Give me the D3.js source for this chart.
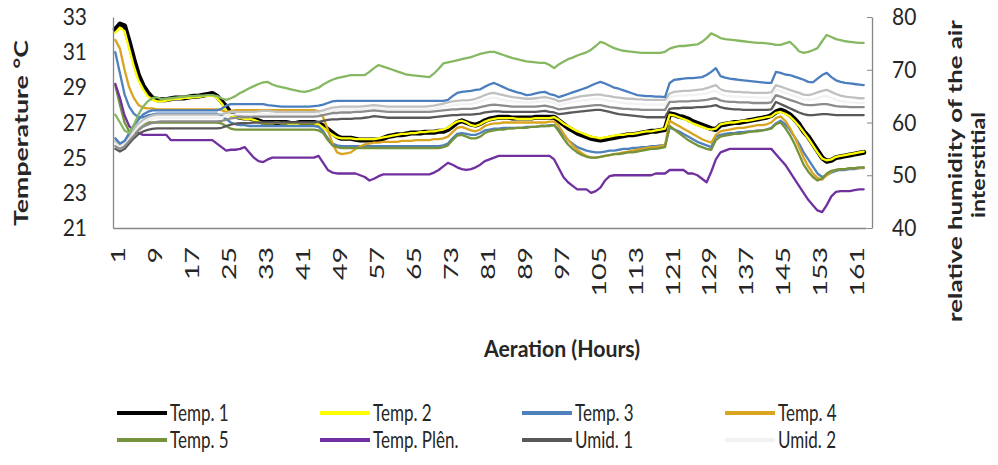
<!DOCTYPE html>
<html>
<head>
<meta charset="utf-8">
<script src="https://cdn.jsdelivr.net/npm/d3@7"></script>
<style>
  html, body { margin: 0; padding: 0; background: #ffffff; }
  svg { display: block; }
  text { font-family: Lato, "Open Sans", "Liberation Sans", sans-serif; fill: #262626; }
</style>
</head>
<body>
<svg id="chart" width="998" height="465"></svg>
<script>
// Aeration hours (category axis) and the labelled hours
const hours = d3.range(1, 164);
const hourTicks = [1, 9, 17, 25, 33, 41, 49, 57, 65, 73, 81, 89, 97, 105, 113, 121, 129, 137, 145, 153, 161];
const tempTicks = [21, 23, 25, 27, 29, 31, 33];
const humidTicks = [40, 50, 60, 70, 80];

// Grain temperatures, °C (left axis)
const temp1 = [
  32.3, 32.6, 32.5, 31.6, 30.6, 29.7, 29.1, 28.7, 28.4, 28.3,
  28.3, 28.3, 28.35, 28.4, 28.4, 28.4, 28.45, 28.5, 28.5, 28.55,
  28.6, 28.65, 28.5, 28.2, 27.9, 27.5, 27.35, 27.3, 27.25, 27.25,
  27.2, 27.1, 27.0, 27.0, 27.0, 27.0, 27.0, 27.0, 26.95, 26.95,
  27.0, 27.0, 27.0, 27.0, 26.95, 26.8, 26.6, 26.4, 26.2, 26.1,
  26.1, 26.1, 26.05, 26.0, 26.0, 26.0, 26.0, 26.0, 26.1, 26.2,
  26.25, 26.3, 26.3, 26.35, 26.4, 26.4, 26.4, 26.45, 26.45, 26.45,
  26.5, 26.5, 26.6, 26.8, 27.0, 27.1, 27.0, 26.9, 26.85, 26.95,
  27.1, 27.2, 27.25, 27.3, 27.3, 27.3, 27.25, 27.25, 27.25, 27.25,
  27.25, 27.3, 27.3, 27.3, 27.3, 27.3, 27.1, 26.9, 26.7, 26.55,
  26.4, 26.3, 26.2, 26.1, 26.05, 26.0, 26.05, 26.1, 26.15, 26.2,
  26.25, 26.3, 26.3, 26.35, 26.4, 26.45, 26.5, 26.5, 26.55, 26.6,
  27.5, 27.45, 27.35, 27.3, 27.2, 27.05, 26.95, 26.85, 26.75, 26.65,
  26.6, 26.85, 26.9, 26.95, 27.0, 27.0, 27.05, 27.1, 27.15, 27.2,
  27.25, 27.3, 27.4, 27.6, 27.7, 27.6, 27.45, 27.2, 26.9, 26.5,
  26.2, 25.8, 25.4, 25.0, 24.8, 24.85, 25.0, 25.05, 25.1, 25.15,
  25.2, 25.25, 25.3
];
const temp2 = [
  32.1, 32.4, 32.2, 31.2, 30.2, 29.4, 28.9, 28.5, 28.3, 28.2,
  28.2, 28.25, 28.3, 28.35, 28.35, 28.4, 28.4, 28.45, 28.45, 28.5,
  28.5, 28.55, 28.4, 28.1, 27.7, 27.4, 27.3, 27.25, 27.2, 27.2,
  27.15, 27.05, 26.95, 26.95, 26.95, 27.0, 26.95, 26.95, 26.9, 26.9,
  26.95, 26.95, 26.95, 26.95, 26.9, 26.7, 26.5, 26.3, 26.15, 26.1,
  26.1, 26.1, 26.05, 26.05, 26.05, 26.05, 26.05, 26.1, 26.15, 26.2,
  26.25, 26.3, 26.35, 26.35, 26.4, 26.4, 26.45, 26.45, 26.5, 26.5,
  26.55, 26.6, 26.7, 26.9, 27.05, 27.1, 27.0, 26.85, 26.8, 26.9,
  27.05, 27.15, 27.2, 27.25, 27.25, 27.25, 27.25, 27.2, 27.2, 27.2,
  27.2, 27.25, 27.25, 27.25, 27.25, 27.3, 27.15, 26.95, 26.8, 26.65,
  26.5, 26.4, 26.3, 26.2, 26.15, 26.1, 26.15, 26.2, 26.25, 26.3,
  26.3, 26.35, 26.35, 26.4, 26.45, 26.5, 26.5, 26.55, 26.6, 26.65,
  27.45, 27.4, 27.3, 27.2, 27.1, 26.95, 26.85, 26.75, 26.65, 26.6,
  26.65, 26.9, 26.95, 27.0, 27.0, 27.05, 27.1, 27.1, 27.15, 27.2,
  27.25, 27.3, 27.35, 27.55, 27.6, 27.5, 27.35, 27.1, 26.8, 26.45,
  26.1, 25.7, 25.3, 24.95, 24.85, 24.9, 25.05, 25.1, 25.15, 25.2,
  25.25, 25.3, 25.35
];
const temp3 = [
  31.0, 29.8, 28.6, 27.9, 27.5, 27.3, 27.3, 27.4, 27.45, 27.5,
  27.5, 27.5, 27.5, 27.5, 27.5, 27.5, 27.5, 27.5, 27.5, 27.5,
  27.5, 27.5, 27.5, 27.4, 27.2, 27.0, 26.9, 26.85, 26.85, 26.8,
  26.8, 26.8, 26.8, 26.8, 26.8, 26.8, 26.8, 26.8, 26.8, 26.8,
  26.8, 26.8, 26.8, 26.8, 26.75, 26.5, 26.1, 25.8, 25.7, 25.65,
  25.65, 25.65, 25.65, 25.65, 25.65, 25.65, 25.65, 25.65, 25.65, 25.65,
  25.65, 25.65, 25.65, 25.65, 25.65, 25.65, 25.65, 25.65, 25.65, 25.65,
  25.65, 25.7, 25.8, 26.1, 26.35, 26.4, 26.35, 26.3, 26.3, 26.4,
  26.55, 26.6, 26.65, 26.65, 26.7, 26.7, 26.7, 26.7, 26.7, 26.75,
  26.75, 26.75, 26.8, 26.8, 26.85, 26.85, 26.6, 26.3, 26.0, 25.8,
  25.6, 25.5, 25.4, 25.35, 25.3, 25.3, 25.35, 25.4, 25.4, 25.45,
  25.5, 25.5, 25.55, 25.55, 25.6, 25.6, 25.65, 25.65, 25.7, 25.7,
  26.7, 26.6, 26.5, 26.35, 26.2, 26.05, 25.9, 25.8, 25.7, 25.6,
  26.2, 26.3, 26.35, 26.4, 26.4, 26.45, 26.45, 26.5, 26.5, 26.55,
  26.55, 26.6, 26.7, 26.95, 27.1, 26.9, 26.6, 26.2, 25.8, 25.3,
  24.9, 24.5, 24.1, 23.9, 24.0, 24.15, 24.25, 24.3, 24.3, 24.35,
  24.35, 24.4, 24.4
];
const temp4 = [
  31.7, 31.2, 30.0, 29.0, 28.4, 28.0, 27.85, 27.8, 27.8, 27.75,
  27.75, 27.75, 27.75, 27.75, 27.75, 27.75, 27.75, 27.75, 27.75, 27.75,
  27.75, 27.75, 27.75, 27.7, 27.6, 27.65, 27.7, 27.7, 27.7, 27.7,
  27.7, 27.7, 27.7, 27.7, 27.7, 27.7, 27.7, 27.7, 27.7, 27.7,
  27.7, 27.7, 27.7, 27.7, 27.65, 27.3, 26.6, 25.8, 25.3, 25.2,
  25.25, 25.3, 25.5, 25.65, 25.75, 25.8, 25.85, 25.85, 25.9, 25.9,
  25.9, 25.9, 25.95, 25.95, 25.95, 26.0, 26.0, 26.0, 26.0, 26.05,
  26.05, 26.1, 26.2, 26.45, 26.7, 26.75, 26.65, 26.55, 26.5, 26.6,
  26.8, 26.9, 26.95, 26.95, 27.0, 27.0, 27.0, 27.0, 27.0, 27.0,
  27.0, 27.0, 27.0, 27.0, 27.05, 27.05, 26.8, 26.4, 26.0, 25.7,
  25.45, 25.25, 25.1, 25.0, 25.0, 25.05, 25.1, 25.15, 25.2, 25.25,
  25.3, 25.35, 25.4, 25.45, 25.5, 25.55, 25.6, 25.6, 25.65, 25.7,
  27.1, 26.95, 26.8, 26.65, 26.5, 26.35, 26.2, 26.05, 25.95, 25.85,
  26.3, 26.5, 26.55, 26.6, 26.65, 26.7, 26.7, 26.75, 26.8, 26.85,
  26.85, 26.9, 27.0, 27.25, 27.35, 27.1, 26.7, 26.2, 25.6, 25.0,
  24.5, 24.1, 23.85, 23.75, 24.0, 24.2, 24.3, 24.35, 24.35, 24.4,
  24.4, 24.4, 24.45
];
const temp5 = [
  29.1, 28.0, 27.0, 26.5, 26.5, 26.7, 26.9, 27.0, 27.0, 27.0,
  27.0, 27.0, 27.0, 27.0, 27.0, 27.0, 27.0, 27.0, 27.0, 27.0,
  27.0, 27.0, 27.0, 26.95, 26.8, 26.65, 26.6, 26.6, 26.6, 26.6,
  26.6, 26.6, 26.6, 26.6, 26.6, 26.6, 26.6, 26.6, 26.6, 26.6,
  26.6, 26.6, 26.6, 26.6, 26.55, 26.4, 26.0, 25.7, 25.6, 25.55,
  25.55, 25.55, 25.55, 25.55, 25.55, 25.55, 25.55, 25.55, 25.55, 25.55,
  25.55, 25.55, 25.55, 25.55, 25.55, 25.55, 25.55, 25.55, 25.55, 25.55,
  25.55, 25.6, 25.7, 26.0, 26.25, 26.3, 26.2, 26.1, 26.1, 26.2,
  26.4, 26.5, 26.55, 26.6, 26.6, 26.65, 26.65, 26.7, 26.7, 26.7,
  26.75, 26.75, 26.8, 26.8, 26.8, 26.85, 26.5, 26.1, 25.75, 25.5,
  25.3, 25.15, 25.05, 25.0, 25.0, 25.05, 25.1, 25.15, 25.2, 25.2,
  25.25, 25.3, 25.3, 25.35, 25.4, 25.45, 25.5, 25.5, 25.55, 25.6,
  26.8, 26.6, 26.4, 26.2, 26.0, 25.85, 25.7, 25.6, 25.5, 25.45,
  26.0, 26.2, 26.25, 26.3, 26.35, 26.35, 26.4, 26.45, 26.5, 26.5,
  26.55, 26.6, 26.65, 26.9, 27.0, 26.7, 26.3, 25.8, 25.2, 24.6,
  24.2, 23.9, 23.7, 23.8, 24.1, 24.25, 24.3, 24.35, 24.35, 24.4,
  24.4, 24.45, 24.45
];
const tempPlenum = [
  29.2, 28.4, 27.4, 26.8, 26.5, 26.4, 26.3, 26.3, 26.3, 26.3,
  26.3, 26.3, 26.0, 26.0, 26.0, 26.0, 26.0, 26.0, 26.0, 26.0,
  26.0, 26.0, 25.8, 25.6, 25.4, 25.45, 25.45, 25.5, 25.6, 25.3,
  25.0, 24.8, 24.75, 24.9, 25.0, 25.0, 25.0, 25.0, 25.0, 25.0,
  25.0, 25.0, 25.0, 25.0, 25.1, 24.7, 24.3, 24.15, 24.1, 24.1,
  24.1, 24.1, 24.1, 24.0, 23.9, 23.7, 23.8, 23.95, 24.05, 24.05,
  24.05, 24.05, 24.05, 24.05, 24.05, 24.05, 24.05, 24.05, 24.05, 24.15,
  24.3, 24.5, 24.7, 24.6, 24.45, 24.35, 24.3, 24.35, 24.45, 24.6,
  24.8, 24.9, 25.0, 25.1, 25.1, 25.1, 25.1, 25.1, 25.1, 25.1,
  25.1, 25.1, 25.1, 25.1, 25.1, 24.9, 24.4, 23.9, 23.6, 23.4,
  23.2, 23.2, 23.2, 23.0, 23.1, 23.3, 23.7, 23.95, 24.0, 24.0,
  24.0, 24.0, 24.0, 24.0, 24.0, 24.0, 24.0, 24.1, 24.1, 24.1,
  24.3, 24.3, 24.3, 24.3, 24.1, 24.1, 24.0, 23.8, 23.6, 24.2,
  24.9, 25.3, 25.4, 25.5, 25.5, 25.5, 25.5, 25.5, 25.5, 25.5,
  25.5, 25.5, 25.5, 25.2, 24.9, 24.6, 24.2, 23.8, 23.4, 23.0,
  22.6, 22.3, 22.0, 21.9, 22.3, 22.8, 23.05, 23.1, 23.1, 23.1,
  23.15, 23.2, 23.2
];

// Relative humidity of the interstitial air, % (right axis)
const umid1 = [
  55.0, 54.5, 55.0, 56.0, 57.0, 57.8, 58.3, 58.6, 58.8, 58.9,
  58.9, 58.9, 58.9, 58.9, 58.9, 58.9, 58.9, 58.9, 58.9, 58.9,
  58.9, 58.9, 58.9, 59.0, 59.3, 59.6, 59.8, 59.9, 59.9, 59.9,
  60.0, 60.0, 60.0, 60.0, 60.0, 60.0, 60.0, 60.0, 60.0, 60.0,
  60.0, 60.0, 60.0, 60.0, 60.1, 60.3, 60.5, 60.6, 60.6, 60.7,
  60.7, 60.7, 60.8, 60.8, 60.9, 61.0, 61.2, 61.1, 61.0, 60.9,
  60.9, 60.9, 60.9, 60.9, 60.9, 60.9, 60.9, 60.9, 60.9, 61.0,
  61.1, 61.2, 61.3, 61.4, 61.4, 61.5, 61.5, 61.5, 61.6, 61.7,
  61.9, 62.0, 62.1, 62.1, 62.0, 62.0, 62.0, 62.0, 62.0, 62.0,
  62.0, 62.0, 62.1, 62.2, 62.0, 61.9, 61.6, 61.7, 61.8, 61.9,
  62.0, 62.1, 62.2, 62.3, 62.4, 62.4, 62.2, 62.0, 61.8, 61.6,
  61.5, 61.4, 61.3, 61.2, 61.1, 61.0, 61.0, 61.0, 61.0, 61.0,
  62.6, 62.7, 62.7, 62.8, 62.8, 62.8, 62.9, 62.9, 63.0, 63.1,
  63.3, 62.9, 62.7, 62.6, 62.5, 62.5, 62.4, 62.4, 62.4, 62.4,
  62.4, 62.4, 62.5, 63.9, 63.5, 63.1, 62.7, 62.3, 61.9, 61.6,
  61.4, 61.4, 61.5, 61.6, 61.6, 61.5, 61.4, 61.4, 61.4, 61.4,
  61.4, 61.4, 61.4
];
const umid2 = [
  56.0, 55.4, 56.0, 57.0, 58.2, 59.2, 59.9, 60.4, 60.7, 60.9,
  60.9, 60.9, 60.9, 60.9, 60.9, 60.9, 60.9, 60.9, 60.9, 60.9,
  60.9, 60.9, 60.9, 61.0, 61.2, 61.5, 61.5, 61.5, 61.5, 61.5,
  61.6, 61.6, 61.6, 61.6, 61.6, 61.6, 61.6, 61.6, 61.6, 61.6,
  61.6, 61.6, 61.6, 61.6, 61.7, 61.9, 62.1, 62.3, 62.4, 62.5,
  62.5, 62.5, 62.5, 62.5, 62.6, 62.7, 62.8, 62.7, 62.6, 62.5,
  62.5, 62.5, 62.5, 62.5, 62.5, 62.5, 62.5, 62.5, 62.5, 62.6,
  62.8, 63.0, 63.1, 63.3, 63.4, 63.5, 63.5, 63.5, 63.7, 64.0,
  64.3, 64.6, 64.7, 64.5, 64.3, 64.1, 64.0, 63.9, 63.8, 63.8,
  63.8, 63.9, 64.0, 64.1, 63.9, 63.7, 63.3, 63.5, 63.7, 63.9,
  64.0, 64.2, 64.3, 64.4, 64.5, 64.5, 64.3, 64.1, 64.0, 63.8,
  63.7, 63.6, 63.6, 63.5, 63.5, 63.4, 63.4, 63.4, 63.4, 63.4,
  64.8, 65.0, 65.1, 65.1, 65.2, 65.2, 65.3, 65.4, 65.5, 65.8,
  66.0, 65.4, 65.1, 65.0, 64.9, 64.9, 64.8, 64.8, 64.8, 64.7,
  64.7, 64.7, 64.8, 66.3, 66.0, 65.6, 65.3, 65.0, 64.7, 64.4,
  64.3, 64.4, 64.6, 64.9, 65.0, 64.7, 64.3, 64.1, 63.9, 63.8,
  63.8, 63.7, 63.7
];
const umid3 = [
  56.5, 55.8, 56.5, 57.5, 58.8, 59.8, 60.5, 61.0, 61.3, 61.5,
  61.5, 61.5, 61.5, 61.5, 61.5, 61.5, 61.5, 61.5, 61.5, 61.5,
  61.5, 61.5, 61.5, 61.6, 61.8, 62.0, 62.0, 62.0, 62.0, 62.0,
  62.0, 62.1, 62.2, 62.2, 62.1, 62.0, 62.0, 62.0, 62.0, 62.0,
  62.0, 62.0, 62.0, 62.0, 62.1, 62.3, 62.6, 62.8, 62.9, 63.0,
  63.0, 63.0, 63.0, 63.0, 63.1, 63.2, 63.3, 63.2, 63.1, 63.0,
  63.0, 63.0, 63.0, 63.0, 63.0, 63.0, 63.0, 63.0, 63.1, 63.2,
  63.4, 63.6, 63.8, 64.0, 64.1, 64.2, 64.2, 64.3, 64.5, 64.8,
  65.2, 65.5, 65.6, 65.4, 65.2, 65.0, 64.8, 64.7, 64.6, 64.5,
  64.5, 64.6, 64.7, 64.8, 64.6, 64.4, 64.0, 64.2, 64.4, 64.6,
  64.8, 65.0, 65.1, 65.2, 65.3, 65.3, 65.1, 65.0, 64.8, 64.7,
  64.6, 64.5, 64.5, 64.4, 64.4, 64.3, 64.3, 64.3, 64.3, 64.3,
  65.5, 65.8, 65.9, 66.0, 66.0, 66.1, 66.2, 66.3, 66.5, 66.8,
  67.1, 66.3, 66.0, 65.9, 65.8, 65.8, 65.7, 65.7, 65.6, 65.6,
  65.6, 65.6, 65.7, 67.1, 66.8, 66.5, 66.2, 65.9, 65.6, 65.3,
  65.2, 65.4, 65.7, 66.0, 66.2, 65.8, 65.4, 65.1, 64.9, 64.8,
  64.7, 64.6, 64.6
];
const umid4 = [
  55.5, 55.0, 55.5, 56.5, 57.5, 58.5, 59.2, 59.6, 59.9, 60.1,
  60.2, 60.2, 60.2, 60.2, 60.2, 60.2, 60.2, 60.2, 60.2, 60.2,
  60.2, 60.2, 60.2, 60.3, 60.5, 60.8, 60.9, 61.0, 61.0, 61.0,
  61.1, 61.1, 61.1, 61.1, 61.1, 61.1, 61.1, 61.1, 61.1, 61.1,
  61.1, 61.1, 61.1, 61.1, 61.2, 61.4, 61.6, 61.8, 61.8, 61.9,
  61.9, 61.9, 62.0, 62.0, 62.1, 62.2, 62.3, 62.2, 62.1, 62.0,
  62.0, 62.0, 62.0, 62.0, 62.0, 62.0, 62.0, 62.0, 62.0, 62.1,
  62.2, 62.3, 62.4, 62.5, 62.5, 62.6, 62.6, 62.6, 62.7, 62.9,
  63.1, 63.3, 63.4, 63.3, 63.2, 63.1, 63.0, 63.0, 63.0, 63.0,
  63.0, 63.0, 63.1, 63.2, 63.0, 62.8, 62.5, 62.6, 62.7, 62.8,
  62.9, 63.0, 63.1, 63.2, 63.3, 63.3, 63.1, 62.9, 62.8, 62.7,
  62.6, 62.6, 62.5, 62.5, 62.4, 62.4, 62.4, 62.4, 62.4, 62.4,
  63.9, 63.9, 64.0, 64.0, 64.0, 64.1, 64.1, 64.2, 64.3, 64.5,
  64.6, 64.2, 64.0, 63.9, 63.9, 63.8, 63.8, 63.8, 63.7, 63.7,
  63.7, 63.7, 63.8, 65.2, 64.9, 64.6, 64.3, 64.0, 63.7, 63.4,
  63.3, 63.3, 63.4, 63.5, 63.5, 63.3, 63.1, 63.0, 63.0, 62.9,
  62.9, 62.9, 62.9
];
const umid5 = [
  57.0, 56.0, 56.5, 58.0, 59.5, 60.5, 61.5, 62.0, 62.3, 62.3,
  62.3, 62.3, 62.3, 62.3, 62.3, 62.3, 62.3, 62.3, 62.3, 62.3,
  62.3, 62.3, 62.3, 62.6, 63.2, 63.5, 63.5, 63.5, 63.5, 63.5,
  63.5, 63.5, 63.5, 63.3, 63.2, 63.1, 63.0, 63.0, 63.0, 63.0,
  63.0, 63.0, 63.0, 63.1, 63.2, 63.4, 63.7, 64.0, 64.1, 64.1,
  64.1, 64.1, 64.1, 64.1, 64.1, 64.1, 64.1, 64.1, 64.1, 64.1,
  64.1, 64.1, 64.1, 64.1, 64.1, 64.1, 64.1, 64.1, 64.1, 64.1,
  64.1, 64.1, 64.3, 65.0, 65.6, 65.8, 65.9, 66.0, 66.2, 66.3,
  66.8, 67.2, 67.5, 67.1, 66.7, 66.3, 66.0, 65.7, 65.5, 65.2,
  65.3, 65.5, 65.7, 65.8, 65.4, 65.2, 64.8, 65.1, 65.4, 65.7,
  66.0, 66.3, 66.6, 67.0, 67.4, 67.7, 67.4, 67.0, 66.6, 66.4,
  66.1, 65.8, 65.5, 65.2, 65.1, 65.0, 65.0, 64.9, 64.9, 64.8,
  67.5, 68.1, 68.2, 68.3, 68.4, 68.4, 68.5, 68.6, 69.0, 69.6,
  70.3, 68.8, 68.5, 68.3, 68.2, 68.1, 68.0, 67.9, 67.8, 67.7,
  67.6, 67.5, 67.5, 69.6, 69.4, 69.1, 69.0, 68.7, 68.4, 68.1,
  67.7, 67.6, 68.3, 69.0, 69.4, 68.6, 68.0, 67.7, 67.5, 67.4,
  67.3, 67.2, 67.1
];
const umid6 = [
  61.5, 60.0, 58.5, 58.0, 59.5, 61.5, 63.0, 64.0, 64.6, 64.8,
  64.4, 64.5, 64.6, 64.7, 64.8, 64.9, 65.0, 65.0, 65.1, 65.1,
  65.2, 65.2, 65.0, 64.6, 64.3, 64.6, 65.0, 65.6, 66.0, 66.5,
  66.9, 67.3, 67.6, 67.7, 67.2, 66.9, 66.7, 66.5, 66.3, 66.1,
  65.9, 65.8, 66.0, 66.3, 66.6, 67.2, 67.7, 68.1, 68.4, 68.6,
  68.8, 69.0, 69.0, 69.0, 69.0, 69.6, 70.3, 70.9, 70.6, 70.3,
  70.0, 69.7, 69.4, 69.1, 69.0, 68.9, 68.8, 68.7, 68.6, 69.3,
  70.2, 71.2, 71.4, 71.6, 71.8, 72.0, 72.2, 72.4, 72.7, 73.0,
  73.2, 73.4, 73.4, 73.1, 72.8, 72.5, 72.2, 72.0, 71.8, 71.6,
  71.5, 71.4, 71.3, 71.3, 70.9, 70.3, 71.0, 71.5, 72.0, 72.3,
  72.7, 73.0, 73.3, 73.8, 74.5, 75.3, 75.0, 74.5, 74.1, 73.8,
  73.6, 73.5, 73.4, 73.3, 73.2, 73.2, 73.2, 73.2, 73.2, 73.4,
  74.0, 74.3, 74.5, 74.5, 74.6, 74.7, 74.8, 75.3, 76.0, 76.9,
  76.5, 76.0, 75.8, 75.7, 75.6, 75.5, 75.4, 75.3, 75.2, 75.1,
  75.1, 75.0, 74.9, 74.7, 74.7, 75.0, 75.3, 74.5, 73.5, 73.2,
  73.4, 73.7, 74.1, 75.4, 76.6, 76.2, 75.8, 75.6, 75.4, 75.3,
  75.2, 75.1, 75.1
];

// Series drawing order, names, colours and axis assignment
const seriesNames = ["Temp. 1", "Temp. 2", "Temp. 3", "Temp. 4", "Temp. 5", "Temp. Plên.",
                     "Umid. 1", "Umid. 2", "Umid. 3", "Umid. 4", "Umid. 5", "Umid. 6"];
const seriesValues = [temp1, temp2, temp3, temp4, temp5, tempPlenum,
                      umid1, umid2, umid3, umid4, umid5, umid6];
const seriesColors = ["#000000", "#ffff00", "#4f81bd", "#d9a520", "#76933c", "#7030a0",
                      "#595959", "#f2f2f2", "#c0c0c0", "#8c8c8c", "#4a7ebf", "#86b862"];
const seriesAxis = ["L", "L", "L", "L", "L", "L", "R", "R", "R", "R", "R", "R"];
const legendCount = 8;

const svg = d3.select("#chart");
const plot = { left: 113, right: 866, top: 17, bottom: 228 };

const x = d3.scaleBand().domain(hours).range([plot.left, plot.right]).padding(0);
const yL = d3.scaleLinear().domain([21, 33]).range([plot.bottom, plot.top]);
const yR = d3.scaleLinear().domain([40, 80]).range([plot.bottom, plot.top]);
const cx = h => x(h) + x.bandwidth() / 2;

// Lines: temperatures on the left scale, humidities on the right scale
const lineLayer = svg.append("g");
seriesValues.forEach((vals, k) => {
  const yScale = seriesAxis[k] === "L" ? yL : yR;
  const line = d3.line()
    .x((d, i) => cx(hours[i]))
    .y(d => yScale(d));
  lineLayer.append("path")
    .datum(vals)
    .attr("fill", "none")
    .attr("stroke", seriesColors[k])
    .attr("stroke-width", k === 0 ? 5 : 2.3)
    .attr("stroke-linejoin", "round")
    .attr("stroke-linecap", "round")
    .attr("d", line);
});

// Axes
const axisColor = "#868686";
const fontFam = "Lato, 'Open Sans', sans-serif";

const gL = svg.append("g").attr("transform", `translate(${plot.left},0)`)
  .call(d3.axisLeft(yL).tickValues(tempTicks).tickSize(0).tickPadding(26));
gL.select(".domain").attr("stroke", axisColor).attr("stroke-width", 1.3);
gL.selectAll("text")
  .attr("font-family", fontFam).attr("font-size", 21).attr("fill", "#333")
  .attr("dy", "0.32em")
  .attr("transform", "scale(1,1.12)");

const gR = svg.append("g").attr("transform", `translate(${plot.right + 6},0)`)
  .call(d3.axisRight(yR).tickValues(humidTicks).tickSizeInner(-5).tickSizeOuter(0).tickPadding(20));
gR.select(".domain").attr("stroke", axisColor).attr("stroke-width", 1.3);
gR.selectAll("line").attr("stroke", axisColor);
gR.selectAll("text")
  .attr("font-family", fontFam).attr("font-size", 21).attr("fill", "#333")
  .attr("dy", "0.32em")
  .attr("transform", "scale(1,1.12)");

const gB = svg.append("g").attr("transform", `translate(0,${plot.bottom})`)
  .call(d3.axisBottom(x).tickValues(hourTicks).tickSize(0).tickSizeOuter(0));
gB.select(".domain").attr("stroke", axisColor).attr("stroke-width", 1.3);
gB.selectAll("text")
  .attr("font-family", fontFam).attr("font-size", 19).attr("fill", "#333")
  .attr("x", 0).attr("y", 0).attr("dy", "0.36em")
  .attr("text-anchor", "end")
  .attr("transform", "translate(3,19) rotate(-90) scale(1.5,1)");

// Axis titles
svg.append("text")
  .attr("transform", "translate(28,133) rotate(-90)")
  .attr("text-anchor", "middle")
  .attr("font-family", fontFam).attr("font-weight", 700).attr("font-size", 19)
  .attr("fill", "#1a1a1a")
  .attr("textLength", 186).attr("lengthAdjust", "spacingAndGlyphs")
  .text("Temperature °C");

svg.append("text")
  .attr("transform", "translate(962,171) rotate(-90)")
  .attr("text-anchor", "middle")
  .attr("font-family", fontFam).attr("font-weight", 700).attr("font-size", 19)
  .attr("fill", "#1a1a1a")
  .attr("textLength", 302).attr("lengthAdjust", "spacingAndGlyphs")
  .text("relative humidity of the air");
svg.append("text")
  .attr("transform", "translate(985,165) rotate(-90)")
  .attr("text-anchor", "middle")
  .attr("font-family", fontFam).attr("font-weight", 700).attr("font-size", 19)
  .attr("fill", "#1a1a1a")
  .attr("textLength", 106).attr("lengthAdjust", "spacingAndGlyphs")
  .text("interstitial");

svg.append("text")
  .attr("transform", "translate(562,357) scale(1,1.3)")
  .attr("text-anchor", "middle")
  .attr("font-family", fontFam).attr("font-weight", 700).attr("font-size", 17)
  .attr("fill", "#1a1a1a")
  .attr("textLength", 156).attr("lengthAdjust", "spacingAndGlyphs")
  .text("Aeration (Hours)");

// Legend (two rows of four)
const legendCols = [117, 320, 522, 725];
const legendRowsY = [413, 440];
const legend = svg.append("g");
for (let k = 0; k < legendCount; k++) {
  const lx = legendCols[k % 4];
  const ly = legendRowsY[Math.floor(k / 4)];
  legend.append("line")
    .attr("x1", lx).attr("x2", lx + 50)
    .attr("y1", ly).attr("y2", ly)
    .attr("stroke", seriesColors[k])
    .attr("stroke-width", 4);
  legend.append("text")
    .attr("transform", `translate(${lx + 53},${ly}) scale(1,1.3)`)
    .attr("dy", "0.35em")
    .attr("font-family", fontFam).attr("font-size", 17)
    .attr("fill", "#262626")
    .text(seriesNames[k]);
}
</script>
</body>
</html>
